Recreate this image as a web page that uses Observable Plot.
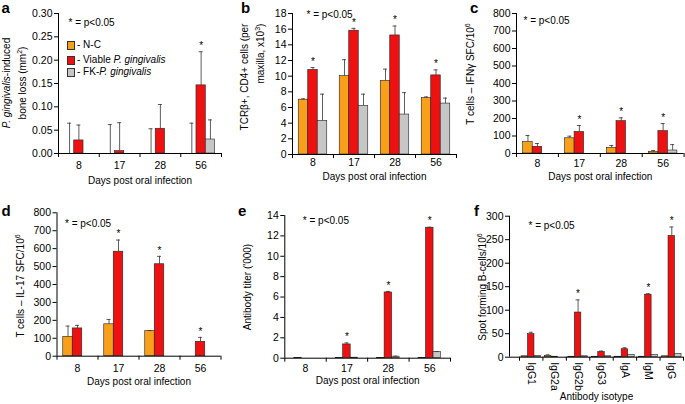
<!DOCTYPE html>
<html><head><meta charset="utf-8">
<script src="https://cdn.jsdelivr.net/npm/d3@7"></script>
<script src="https://cdn.jsdelivr.net/npm/@observablehq/plot@0.6"></script>
<style>
body{margin:0;background:#fff;}
#fig{position:relative;width:685px;height:404px;overflow:hidden;font-family:"Liberation Sans",Arial,sans-serif;color:#000;background:#fff;}
.yl{position:absolute;font-size:10px;line-height:12.5px;white-space:nowrap;transform:translate(-50%,-50%) rotate(-90deg);}
.let{position:absolute;font-weight:bold;font-size:15px;line-height:15px;}
.lg{position:absolute;font-size:10px;line-height:12px;white-space:nowrap;}
.sw{position:absolute;width:6px;height:7px;border:0.8px solid #333;}
</style></head><body><div id="fig"></div>
<script>
// ---- categories & series ----
const days = ["8", "17", "28", "56"];
const isotypes = ["IgG1", "IgG2a", "IgG2b", "IgG3", "IgA", "IgM", "IgG"];
const seriesNames = ["N-C", "Viable P. gingivalis", "FK-P. gingivalis"];
const seriesColors = ["#F9A01B", "#EE1111", "#C6C6C6"];

// panel a: P. gingivalis-induced bone loss (mm2)
const aNC = [0, 0, 0, 0],             aNCsd = [0.065, 0.062, 0.053, 0.065];
const aViable = [0.028, 0.005, 0.053, 0.146], aViableSd = [0.033, 0.061, 0.052, 0.072];
const aFK = [0, 0, 0, 0.030],         aFKsd = [0, 0, 0, 0.042];
const aSig = [false, false, false, true];
const aTicks = [0, 0.05, 0.10, 0.15, 0.20, 0.25, 0.30];

// panel b: TCRb+ CD4+ cells (x10^3)
const bNC = [7.0, 10.0, 9.4, 7.2],     bNCsd = [0.1, 2.1, 1.5, 0.15];
const bViable = [10.8, 15.8, 15.2, 10.1], bViableSd = [0.3, 0.3, 1.2, 0.7];
const bFK = [4.3, 6.2, 5.1, 6.5],      bFKsd = [3.4, 1.5, 2.8, 0.7];
const bSig = [true, true, true, true];
const bTicks = [0, 2, 4, 6, 8, 10, 12, 14, 16, 18];

// panel c: IFNg SFC/10^6
const cNC = [65, 87, 32, 9],     cNCsd = [38, 12, 14, 8];
const cViable = [38, 123, 185, 128], cViableSd = [19, 37, 19, 43];
const cFK = [0, 0, 0, 17],       cFKsd = [0, 0, 0, 34];
const cSig = [false, true, true, true];
const cTicks = [0, 100, 200, 300, 400, 500, 600, 700, 800];

// panel d: IL-17 SFC/10^6
const dNC = [108, 178, 140, 0],   dNCsd = [60, 27, 3, 0];
const dViable = [155, 583, 513, 80], dViableSd = [17, 65, 44, 25];
const dFK = [0, 0, 0, 0],         dFKsd = [0, 0, 0, 0];
const dSig = [false, true, true, true];
const dTicks = [0, 100, 200, 300, 400, 500, 600, 700, 800];

// panel e: antibody titer ('000)
const eNC = [0.03, 0.03, 0.03, 0.03], eNCsd = [0, 0, 0, 0];
const eViable = [0, 1.35, 6.45, 12.8], eViableSd = [0, 0.15, 0.1, 0.05];
const eFK = [0, 0.05, 0.15, 0.6],     eFKsd = [0, 0.02, 0.05, 0.05];
const eSig = [false, true, true, true];
const eTicks = [0, 2, 4, 6, 8, 10, 12, 14];

// panel f: spot forming B-cells/10^6
const fNC = [2, 3, 1, 1, 1, 1, 2],         fNCsd = [0, 2, 0, 0, 0, 0, 0];
const fViable = [49, 1, 95, 11, 17, 133, 258], fViableSd = [4, 0, 27, 2, 3, 2, 19];
const fFK = [3, 0, 2, 2, 5, 5, 7],          fFKsd = [0, 0, 0, 0, 0, 0, 0];
const fSig = [false, false, true, false, false, true, true];
const fTicks = [0, 50, 100, 150, 200, 250, 300];

const pNote = "* = p<0.05";
const xTitleDays = "Days post oral infection";
const xTitleIso = "Antibody isotype";

const fig = document.getElementById("fig");

function panel(cfg) {
  const {cats, series, sig, yTicks, yFormat, left, top, width, height, mL, mR, mT, mB,
         barW, xInset = 0, tickPad, rotate = 0, xTitle, titleDy, noteDx, noteDy} = cfg;
  const bw = (width - mL - mR - xInset) / cats.length;
  const fh = height - mT - mB;
  const n = series.length;
  const bars = [], errs = [];
  series.forEach((s, i) => {
    const rows = cats.map((c, j) => ({cat: c, v: s.values[j], sd: s.sd[j], sig: i === 1 && sig[j]}));
    const dx = (i - (n - 1) / 2) * barW;
    const inset = (bw - barW) / 2;
    bars.push(Plot.barY(rows.filter(r => r.v > 0), {x: "cat", y: "v", fill: s.color, stroke: "#222", strokeWidth: 0.6, insetLeft: inset, insetRight: inset, dx}));
    const er = rows.filter(r => r.sd > 0);
    errs.push(Plot.ruleX(er, {x: "cat", y1: "v", y2: r => r.v + r.sd, dx, stroke: "#333", strokeWidth: 0.8}));
    errs.push(Plot.tickY(er, {x: "cat", y: r => r.v + r.sd, dx, insetLeft: (bw - 4) / 2, insetRight: (bw - 4) / 2, stroke: "#333", strokeWidth: 0.8}));
    errs.push(Plot.text(rows.filter(r => r.sig), {x: "cat", y: r => r.v + r.sd, dx, dy: -6, text: () => "*", fontSize: 10}));
  });
  const last = cats[cats.length - 1];
  const marks = [
    ...bars, ...errs,
    Plot.ruleY([0], {stroke: "#000", strokeWidth: 1}),
    Plot.ruleX([cats[0]], {x: d => d, dx: -bw / 2 - xInset, stroke: "#000", strokeWidth: 1}),
    Plot.ruleX(cats, {x: d => d, dx: -bw / 2, insetTop: fh, insetBottom: -4, stroke: "#000"}),
    Plot.ruleX([last], {x: d => d, dx: bw / 2, insetTop: fh, insetBottom: -4, stroke: "#000"}),
    Plot.text([pNote], {text: d => d, frameAnchor: "top-left", textAnchor: "start", lineAnchor: "middle", dx: noteDx, dy: noteDy, fontSize: 10}),
    Plot.text([xTitle], {text: d => d, frameAnchor: "bottom", lineAnchor: "middle", dy: titleDy, fontSize: 10})
  ];
  const svg = Plot.plot({
    width, height, marginLeft: mL, marginRight: mR, marginTop: mT, marginBottom: mB,
    style: {fontFamily: "Liberation Sans, Arial, sans-serif", fontSize: "10.5px", background: "transparent", overflow: "visible", color: "#000"},
    x: {type: "band", domain: cats, padding: 0, round: false, insetLeft: xInset, tickSize: 0, tickPadding: tickPad, tickRotate: rotate, label: null},
    y: {domain: [yTicks[0], yTicks[yTicks.length - 1]], ticks: yTicks, tickFormat: yFormat, tickSize: 4, tickPadding: 2, label: null},
    marks
  });
  svg.style.position = "absolute";
  svg.style.left = left + "px";
  svg.style.top = top + "px";
  fig.appendChild(svg);
}

const mk = (v0, s0, v1, s1, v2, s2) => [
  {values: v0, sd: s0, color: seriesColors[0]},
  {values: v1, sd: s1, color: seriesColors[1]},
  {values: v2, sd: s2, color: seriesColors[2]}
];

panel({cats: days, series: mk(aNC, aNCsd, aViable, aViableSd, aFK, aFKsd), sig: aSig, yTicks: aTicks, yFormat: d3.format(".2f"),
  left: 0, top: 0, width: 228, height: 195, mL: 58, mR: 7, mT: 13, mB: 42, barW: 9.3, tickPad: 8, xTitle: xTitleDays, titleDy: 27, noteDx: 10, noteDy: 9.7});
panel({cats: days, series: mk(bNC, bNCsd, bViable, bViableSd, bFK, bFKsd), sig: bSig, yTicks: bTicks, yFormat: d3.format("d"),
  left: 228, top: 0, width: 232, height: 195, mL: 64, mR: 4, mT: 13, mB: 41, barW: 9.5, tickPad: 4, xTitle: xTitleDays, titleDy: 22.7, noteDx: 14, noteDy: 1});
panel({cats: days, series: mk(cNC, cNCsd, cViable, cViableSd, cFK, cFKsd), sig: cSig, yTicks: cTicks, yFormat: d3.format("d"),
  left: 460, top: 0, width: 225, height: 195, mL: 56, mR: 1.4, mT: 13, mB: 42, barW: 9.5, tickPad: 6, xTitle: xTitleDays, titleDy: 23.7, noteDx: 7, noteDy: 7});
panel({cats: days, series: mk(dNC, dNCsd, dViable, dViableSd, dFK, dFKsd), sig: dSig, yTicks: dTicks, yFormat: d3.format("d"),
  left: 0, top: 195, width: 228, height: 209, mL: 56.5, mR: 7.5, mT: 17.3, mB: 48.3, barW: 9.5, tickPad: 8, xTitle: xTitleDays, titleDy: 26, noteDx: 8, noteDy: 11});
panel({cats: days, series: mk(eNC, eNCsd, eViable, eViableSd, eFK, eFKsd), sig: eSig, yTicks: eTicks, yFormat: d3.format("d"),
  left: 228, top: 195, width: 232, height: 209, mL: 56.3, mR: 10, mT: 20, mB: 46.3, barW: 7.5, tickPad: 6, xTitle: xTitleDays, titleDy: 22.3, noteDx: 18, noteDy: 5});
panel({cats: isotypes, series: mk(fNC, fNCsd, fViable, fViableSd, fFK, fFKsd), sig: fSig, yTicks: fTicks, yFormat: d3.format("d"),
  left: 460, top: 195, width: 225, height: 209, mL: 49, mR: 2, mT: 20.7, mB: 47.3, barW: 6.5, xInset: 10, tickPad: 5, rotate: 90, xTitle: xTitleIso, titleDy: 40, noteDx: 19, noteDy: 9.3});

// ---- y-axis titles (HTML, for italics / superscripts) ----
function ylab(html, cx, cy, align) {
  const d = document.createElement("div");
  d.className = "yl";
  d.innerHTML = html;
  d.style.left = cx + "px"; d.style.top = cy + "px";
  if (align) d.style.textAlign = align;
  fig.appendChild(d);
}
ylab("<i>P. gingivalis</i>-induced<br>bone loss (mm<sup style='font-size:7px'>2</sup>)", 14.5, 83, "center");
ylab("TCRβ+, CD4+ cells (per<br>maxilla, x10<sup style='font-size:7px'>3</sup>)", 252.5, 76.5, "right");
ylab("T cells – IFNγ SFC/10<sup style='font-size:7px'>6</sup>", 470, 74);
ylab("T cells – IL-17 SFC/10<sup style='font-size:7px'>6</sup>", 20, 285.7);
ylab("Antibody titer ('000)", 247.7, 286.7);
ylab("Spot forming B-cells/10<sup style='font-size:7px'>6</sup>", 481.7, 287);

// ---- panel letters ----
[["a", 1.5, 0], ["b", 241, 0], ["c", 470, 0], ["d", 1.5, 203], ["e", 238, 203], ["f", 474, 203]].forEach(([t, x, y]) => {
  const s = document.createElement("div");
  s.className = "let"; s.textContent = t; s.style.left = x + "px"; s.style.top = y + "px";
  fig.appendChild(s);
});

// ---- legend (panel a) ----
const legendY = [44.6, 60, 71.7];
const legendHtml = ["- N-C", "- Viable <i>P. gingivalis</i>", "- FK-<i>P. gingivalis</i>"];
seriesNames.forEach((name, i) => {
  const sw = document.createElement("div");
  sw.className = "sw"; sw.style.background = seriesColors[i];
  sw.style.left = "66.5px"; sw.style.top = (legendY[i] - 4) + "px";
  fig.appendChild(sw);
  const t = document.createElement("div");
  t.className = "lg"; t.innerHTML = legendHtml[i]; t.title = name;
  t.style.left = "77px"; t.style.top = (legendY[i] - 6) + "px";
  fig.appendChild(t);
});
</script></body></html>
